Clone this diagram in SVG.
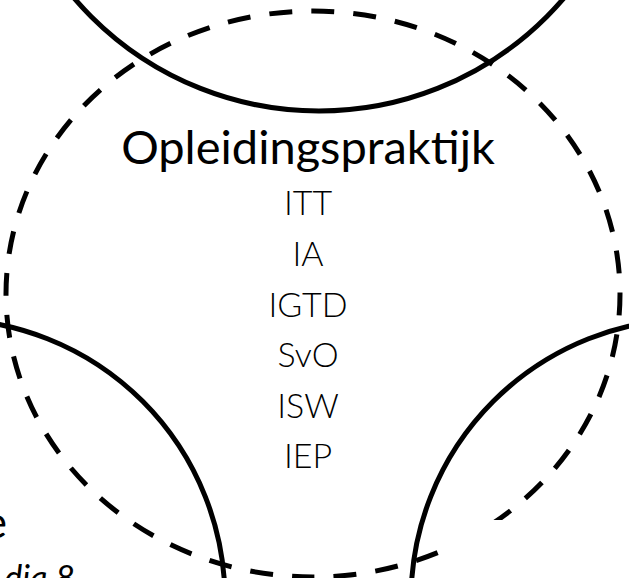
<svg xmlns="http://www.w3.org/2000/svg" width="629" height="578" viewBox="0 0 629 578">
<style>
.solid{fill:none;stroke:#000;stroke-width:5}
.dashed{fill:none;stroke:#000;stroke-width:5;stroke-dasharray:23 19.14;stroke-dashoffset:2}
.title{font-family:Lato,"Liberation Sans",sans-serif;font-size:47px;fill:#000;text-anchor:middle}
.item{font-family:Lato,"Liberation Sans",sans-serif;font-weight:300;font-size:34px;fill:#000;text-anchor:middle}
.side{font-family:Lato,"Liberation Sans",sans-serif;fill:#000;text-anchor:end}
</style>
<rect width="629" height="578" fill="#fff"/>
<g id="opleidingspraktijk-circle">
<path class="dashed" d="M313,577 A307,283 0 0 1 6,294 A307,283 0 0 1 313,11 A307,283 0 0 1 620,294 A307,283 0 0 1 313,577"/>
</g>
<rect x="442" y="520" width="187" height="58" fill="#fff"/>
<g id="top-circle"><circle class="solid" cx="319" cy="-211" r="322"/></g>
<g id="left-circle"><circle class="solid" cx="-56" cy="600" r="281"/></g>
<g id="right-circle"><circle class="solid" cx="692" cy="600" r="281"/></g>
<g id="opleidingspraktijk-text">
<text class="title" x="308" y="164">Opleidingspraktijk</text>
<text class="item" x="308" y="215">ITT</text>
<text class="item" x="308" y="266">IA</text>
<text class="item" x="308" y="317">IGTD</text>
<text class="item" x="308" y="367">SvO</text>
<text class="item" x="308" y="418">ISW</text>
<text class="item" x="308" y="468">IEP</text>
</g>
<g id="left-label">
<text class="side" x="7" y="538" font-size="44">e</text>
<text class="side" x="75" y="590" font-size="34" font-style="italic">dia 8</text>
</g>
</svg>
